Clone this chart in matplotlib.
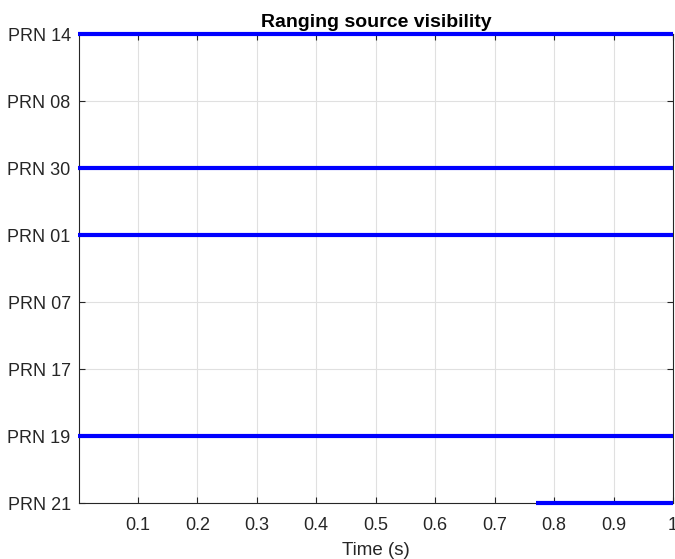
import numpy as np
import matplotlib
matplotlib.use('Agg')
import matplotlib.pyplot as plt

plt.rcParams['font.family'] = ['Liberation Sans', 'DejaVu Sans']

# satellites from bottom to top of the axis
prn_labels = ['PRN 21', 'PRN 19', 'PRN 17', 'PRN 07', 'PRN 01', 'PRN 30', 'PRN 08', 'PRN 14']
# visible time span for each satellite (None = never visible)
vis_start = [0.77, 0.0, None, None, 0.0, 0.0, None, 0.0]
vis_end = [1.0, 1.0, None, None, 1.0, 1.0, None, 1.0]
x_ticks = [0.1, 0.2, 0.3, 0.4, 0.5, 0.6, 0.7, 0.8, 0.9, 1]

fig = plt.figure(figsize=(6.75, 5.59), dpi=100)
ax = fig.add_axes([0.117, 0.1, 0.88, 0.839])

for k in range(len(prn_labels)):
    if vis_start[k] is None:
        continue
    ax.plot([vis_start[k], vis_end[k]], [k + 1, k + 1], color='#0000ff',
            linewidth=3, solid_capstyle='butt', clip_on=False, zorder=3)

ax.set_xlim(0.001, 1)
ax.set_ylim(1, len(prn_labels))
ax.set_xticks(x_ticks)
ax.set_xticklabels(['%g' % t for t in x_ticks])
ax.set_yticks(np.arange(1, len(prn_labels) + 1))
ax.set_yticklabels(prn_labels)
ax.grid(True, color='#e0e0e0', linewidth=0.8)
ax.set_axisbelow(True)
ax.tick_params(direction='in', length=4, labelsize=13, colors='#262626',
               top=True, right=True)
ax.tick_params(axis='x', pad=10)
ax.tick_params(axis='y', pad=6)
for s in ax.spines.values():
    s.set_color('#262626')
    s.set_linewidth(0.8)

ax.set_title('Ranging source visibility', fontsize=14, fontweight='bold', pad=5)
ax.set_xlabel('Time (s)', fontsize=13.5, color='#262626', labelpad=6)

fig.savefig('out.png', dpi=100)
